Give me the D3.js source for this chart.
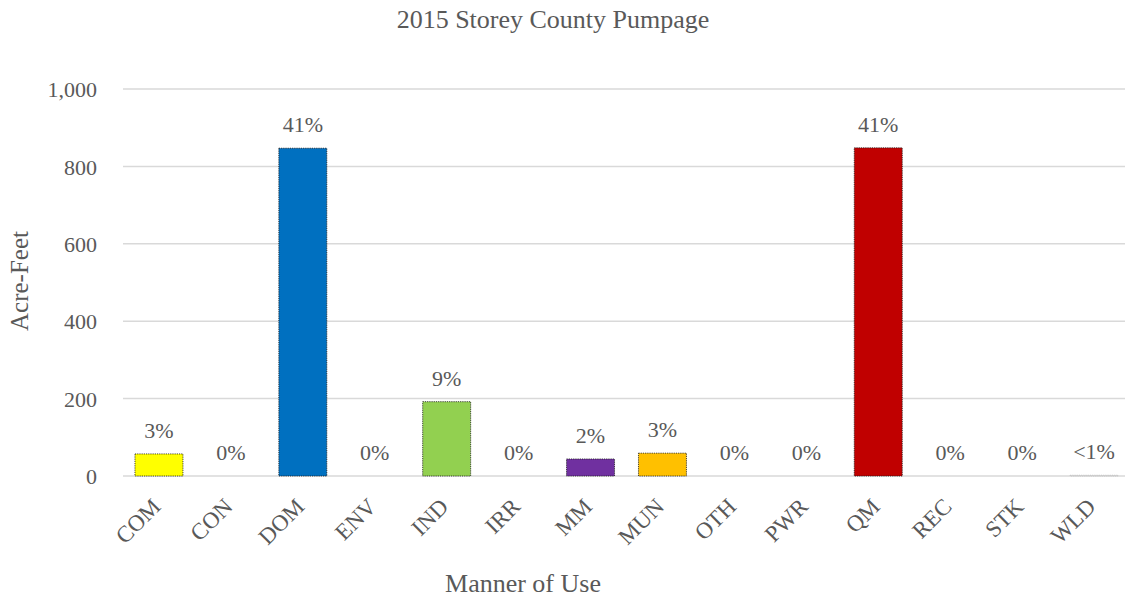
<!DOCTYPE html>
<html>
<head>
<meta charset="utf-8">
<script src="https://cdn.jsdelivr.net/npm/d3@7"></script>
<style>
html,body{margin:0;padding:0;background:#fff;}
svg{display:block;}
svg text{font-family:"Liberation Serif","Times New Roman",serif !important;fill:#595959;}
</style>
</head>
<body>
<svg id="chart" width="1125" height="600" font-family="Liberation Serif, serif"></svg>
<script>
const categories = ["COM","CON","DOM","ENV","IND","IRR","MM","MUN","OTH","PWR","QM","REC","STK","WLD"];
const values     = [57, 0, 847, 0, 192, 0, 44, 59, 0, 0, 848, 0, 0, 2];
const percentLabels = ["3%","0%","41%","0%","9%","0%","2%","3%","0%","0%","41%","0%","0%","<1%"];
const barColors  = ["#FFFF00","#A5A5A5","#0070C0","#A5A5A5","#92D050","#A5A5A5","#7030A0","#FFC000","#A5A5A5","#A5A5A5","#C00000","#A5A5A5","#A5A5A5","#D9D9D9"];
const yTicks = [0,200,400,600,800,1000];
const title = "2015 Storey County Pumpage";
const xTitle = "Manner of Use";
const yTitle = "Acre-Feet";

const svg = d3.select("#chart");
const plotLeft = 123, plotRight = 1130, plotTop = 89, plotBottom = 476;
const serif = "Liberation Serif, Times New Roman, serif";

const x = d3.scaleBand().domain(categories).range([plotLeft, plotRight]).paddingInner(0.333).paddingOuter(0.1665);
const y = d3.scaleLinear().domain([0, 1000]).range([plotBottom, plotTop]);

// gridlines
svg.append("g").selectAll("line").data(yTicks).join("line")
  .attr("x1", plotLeft).attr("x2", plotRight)
  .attr("y1", d => y(d)).attr("y2", d => y(d))
  .attr("stroke", "#D9D9D9").attr("stroke-width", 1.5);

// y axis labels
const yAxis = d3.axisLeft(y).tickValues(yTicks).tickSize(0).tickPadding(0).tickFormat(d3.format(","));
const gy = svg.append("g").attr("transform", `translate(97,0)`).call(yAxis);
gy.attr("font-family", serif).attr("font-size", 22);
gy.select(".domain").remove();
gy.selectAll("text").attr("font-family", serif).attr("font-size", 22).attr("fill", "#595959").attr("dy", "0.35em");

// bars
const data = categories.map((c, i) => ({c, v: values[i], col: barColors[i], lab: percentLabels[i]}));
svg.append("g").selectAll("rect").data(data.filter(d => d.v > 0)).join("rect")
  .attr("x", d => x(d.c)).attr("width", x.bandwidth())
  .attr("y", d => y(d.v)).attr("height", d => y(0) - y(d.v))
  .attr("fill", d => d.col)
  .attr("stroke", d => d.c === "WLD" ? "#BFBFBF" : "#1a1a1a")
  .attr("stroke-width", 0.8).attr("stroke-dasharray", "1.2,1");

// data labels
svg.append("g").selectAll("text").data(data).join("text")
  .attr("x", d => x(d.c) + x.bandwidth() / 2)
  .attr("y", d => y(d.v) - 16)
  .attr("text-anchor", "middle")
  .attr("font-family", serif).attr("font-size", 22)
  .text(d => d.lab);

// x axis labels
const xAxis = d3.axisBottom(x).tickSize(0).tickPadding(0);
const gx = svg.append("g").attr("transform", `translate(0,${plotBottom})`).call(xAxis);
gx.attr("font-family", serif).attr("font-size", 23);
gx.select(".domain").remove();
gx.selectAll("text")
  .attr("font-family", serif).attr("font-size", 23).attr("fill", "#595959")
  .attr("text-anchor", "end")
  .attr("dy", null)
  .attr("transform", "translate(3,32) rotate(-45)");

// titles
svg.append("text").attr("x", 553).attr("y", 28).attr("text-anchor", "middle")
  .attr("font-family", serif).attr("font-size", 26).text(title);
svg.append("text").attr("x", 523).attr("y", 592).attr("text-anchor", "middle")
  .attr("font-family", serif).attr("font-size", 26).text(xTitle);
svg.append("text").attr("transform", "translate(28,281) rotate(-90)").attr("text-anchor", "middle")
  .attr("font-family", serif).attr("font-size", 25).text(yTitle);
</script>
</body>
</html>
